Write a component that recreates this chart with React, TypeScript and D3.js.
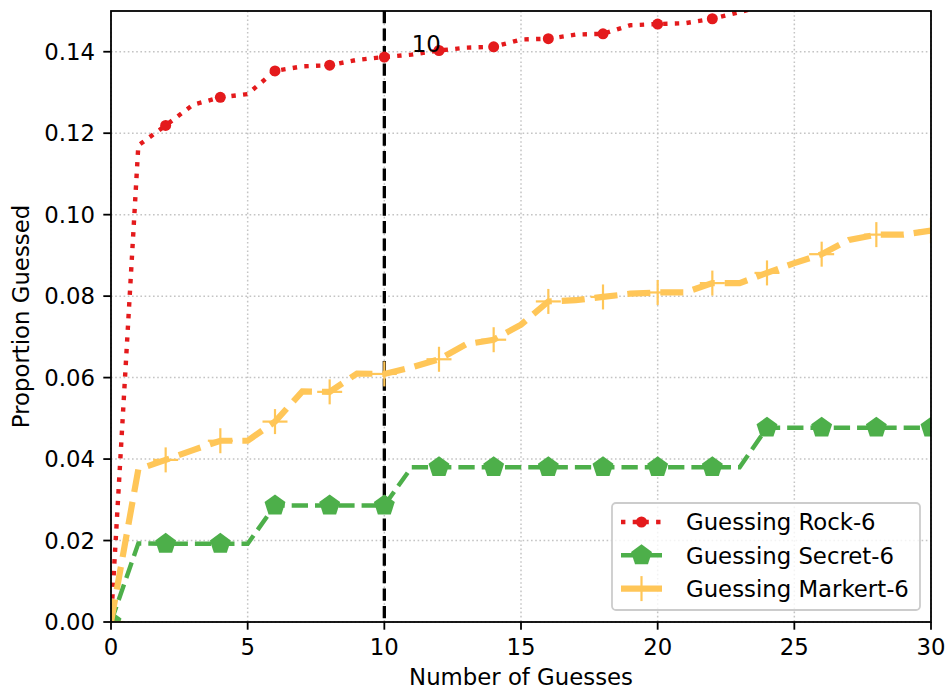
import React from 'react';
import * as d3 from 'd3';

const guesses = d3.range(0, 31);
const rockValues = [0, 0.117, 0.1219, 0.127, 0.1288, 0.1296, 0.1353, 0.1364, 0.1367, 0.138, 0.1387, 0.1393, 0.1403, 0.141, 0.1412, 0.143, 0.1432, 0.1442, 0.1444, 0.1465, 0.1468, 0.147, 0.1481, 0.1497, 0.1515, 0.152, 0.1535, 0.154, 0.155, 0.156, 0.157];
const secretValues = [0, 0.0193, 0.0192, 0.0192, 0.0192, 0.0192, 0.0286, 0.0286, 0.0286, 0.0286, 0.0286, 0.038, 0.038, 0.038, 0.038, 0.038, 0.038, 0.038, 0.038, 0.038, 0.038, 0.038, 0.038, 0.038, 0.0477, 0.0477, 0.0477, 0.0477, 0.0477, 0.0477, 0.0477];
const markertValues = [0, 0.0375, 0.0398, 0.0422, 0.0445, 0.0445, 0.0492, 0.0566, 0.0565, 0.061, 0.0609, 0.0625, 0.0645, 0.0682, 0.0693, 0.073, 0.0787, 0.079, 0.0798, 0.0806, 0.0809, 0.0809, 0.0832, 0.0832, 0.0857, 0.0881, 0.0903, 0.0938, 0.0951, 0.0951, 0.0961];
const seriesNames = ['Guessing Rock-6', 'Guessing Secret-6', 'Guessing Markert-6'];
const xTicks = [0, 5, 10, 15, 20, 25, 30];
const yTicks = [0, 0.02, 0.04, 0.06, 0.08, 0.1, 0.12, 0.14];
const markedGuess = 10;

const width = 948;
const height = 696;
const margin = { top: 11, right: 17, bottom: 74, left: 111 };
const font = 'DejaVu Sans, sans-serif';
const fs = 22.8;

const pentagon = (r: number) => {
  const pts = d3.range(5).map((i) => {
    const a = -Math.PI / 2 + (i * 2 * Math.PI) / 5;
    return [r * Math.cos(a), r * Math.sin(a)];
  });
  return 'M' + pts.map((p) => p.join(',')).join('L') + 'Z';
};

const styles = [
  { color: '#e41a1c', lw: 4.4, dash: '4.4,7.3', marker: 'circle' },
  { color: '#4daf4a', lw: 4.4, dash: '16.3,7', marker: 'pentagon' },
  { color: '#ffc658', lw: 6.2, dash: '23,10', marker: 'plus' },
];

function Marker({ kind, color, x, y }: { kind: string; color: string; x: number; y: number }) {
  if (kind === 'circle') return <circle cx={x} cy={y} r={5.5} fill={color} />;
  if (kind === 'pentagon') return <path d={pentagon(11)} transform={`translate(${x},${y})`} fill={color} />;
  return (
    <g stroke={color} strokeWidth={2.2}>
      <line x1={x - 12.5} x2={x + 12.5} y1={y} y2={y} />
      <line x1={x} x2={x} y1={y - 12.5} y2={y + 12.5} />
    </g>
  );
}

export default function App() {
  const innerW = width - margin.left - margin.right;
  const innerH = height - margin.top - margin.bottom;
  const x = d3.scaleLinear().domain([0, 30]).range([0, innerW]);
  const y = d3.scaleLinear().domain([0, 0.15]).range([innerH, 0]);
  const line = d3.line<number>().x((_, i) => x(guesses[i])).y((d) => y(d));
  const allSeries = [rockValues, secretValues, markertValues];

  const legendX = 612 - margin.left;
  const legendY = 503 - margin.top;

  return (
    <svg width={width} height={height} style={{ position: 'absolute', left: 0, top: 0 }} fontFamily={font}>
      <rect width={width} height={height} fill="#fff" />
      <defs>
        <clipPath id="plot">
          <rect width={innerW} height={innerH} />
        </clipPath>
      </defs>
      <g transform={`translate(${margin.left},${margin.top})`}>
        {xTicks.map((t) => (
          <line key={'gx' + t} x1={x(t)} x2={x(t)} y1={0} y2={innerH} stroke="#c4c4c4" strokeWidth={1.5} strokeDasharray="1.6,2.6" />
        ))}
        {yTicks.map((t) => (
          <line key={'gy' + t} x1={0} x2={innerW} y1={y(t)} y2={y(t)} stroke="#c4c4c4" strokeWidth={1.5} strokeDasharray="1.6,2.6" />
        ))}
        <g clipPath="url(#plot)">
          <line x1={x(markedGuess)} x2={x(markedGuess)} y1={0} y2={innerH} stroke="#000" strokeWidth={3.3} strokeDasharray="12.2,5.3" />
          {allSeries.map((vals, si) => (
            <g key={si}>
              <path d={line(vals) || ''} fill="none" stroke={styles[si].color} strokeWidth={styles[si].lw} strokeDasharray={styles[si].dash} />
              {vals.map((v, i) =>
                i % 2 === 0 ? <Marker key={i} kind={styles[si].marker} color={styles[si].color} x={x(guesses[i])} y={y(v)} /> : null
              )}
            </g>
          ))}
        </g>
        <text x={x(11)} y={y(0.14)} fontSize={fs} fill="#000">10</text>
        <rect width={innerW} height={innerH} fill="none" stroke="#000" strokeWidth={1.8} />
        {xTicks.map((t) => (
          <g key={'tx' + t} transform={`translate(${x(t)},${innerH})`}>
            <line y2={7.7} stroke="#000" strokeWidth={1.8} />
            <text y={32.5} textAnchor="middle" fontSize={fs} fill="#000">{t}</text>
          </g>
        ))}
        {yTicks.map((t) => (
          <g key={'ty' + t} transform={`translate(0,${y(t)})`}>
            <line x2={-7.7} stroke="#000" strokeWidth={1.8} />
            <text x={-16} dy="0.36em" textAnchor="end" fontSize={fs} fill="#000">{d3.format('.2f')(t)}</text>
          </g>
        ))}
        <text x={innerW / 2} y={innerH + 63} textAnchor="middle" fontSize={fs} fill="#000">Number of Guesses</text>
        <text transform={`translate(${29 - margin.left},${innerH / 2}) rotate(-90)`} textAnchor="middle" fontSize={fs} fill="#000">Proportion Guessed</text>

        <rect x={legendX} y={legendY} width={308} height={107} rx={4} fill="#fff" fillOpacity={0.8} stroke="#ccc" strokeWidth={1.8} />
        {seriesNames.map((name, si) => {
          const ry = legendY + 19 + si * 33.3;
          const hx = legendX + 9;
          return (
            <g key={name}>
              <line x1={hx} x2={hx + 41} y1={ry} y2={ry} stroke={styles[si].color} strokeWidth={styles[si].lw} strokeDasharray={si === 0 ? '4.4,7.3' : undefined} />
              <Marker kind={styles[si].marker} color={styles[si].color} x={hx + 20.5} y={ry} />
              <text x={legendX + 74} y={ry} dy="0.36em" fontSize={fs} fill="#000">{name}</text>
            </g>
          );
        })}
      </g>
    </svg>
  );
}
